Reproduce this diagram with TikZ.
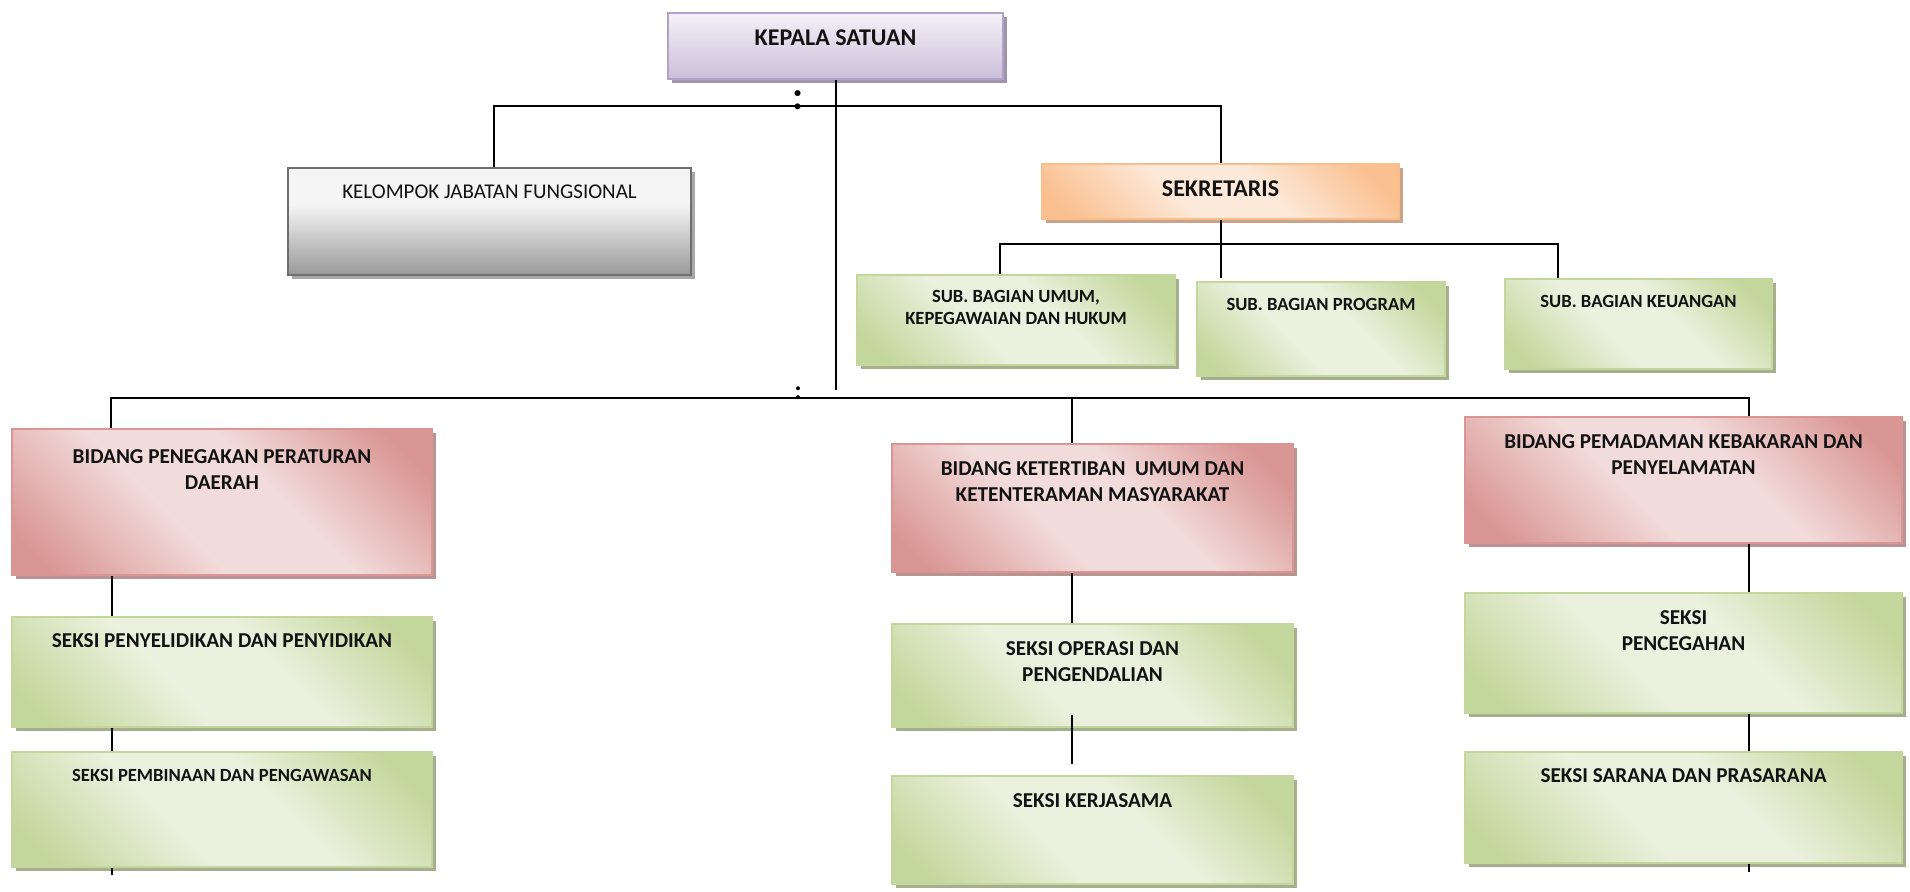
\documentclass[tikz,border=0pt]{standalone}
\usepackage{fontspec}
\setmainfont{Carlito}
\usetikzlibrary{shadows}
\definecolor{lavB}{HTML}{B3A2C7}
\definecolor{lavT}{HTML}{F4F1F8}
\definecolor{lavD}{HTML}{CABFD9}
\definecolor{lavS}{HTML}{9C95AC}
\definecolor{kB}{HTML}{6E6E6E}
\definecolor{kG}{HTML}{999999}
\definecolor{kS}{HTML}{A8A8A8}
\definecolor{oB}{HTML}{F9BE8C}
\definecolor{oD}{HTML}{FAC090}
\definecolor{oL}{HTML}{FDE9D9}
\definecolor{oS}{HTML}{C9A38A}
\definecolor{gB}{HTML}{C3D69B}
\definecolor{gD}{HTML}{C3D69B}
\definecolor{gL}{HTML}{EBF1DE}
\definecolor{gS}{HTML}{A7AE8E}
\definecolor{rB}{HTML}{D99694}
\definecolor{rD}{HTML}{D99694}
\definecolor{rL}{HTML}{F2DCDB}
\definecolor{rS}{HTML}{B99493}
\pgfdeclarehorizontalshading{gshade}{100bp}{color(0bp)=(gD); color(20bp)=(gD); color(42bp)=(gL); color(58bp)=(gL); color(79bp)=(gD); color(100bp)=(gD)}
\pgfdeclarehorizontalshading{rshade}{100bp}{color(0bp)=(rD); color(20bp)=(rD); color(42bp)=(rL); color(58bp)=(rL); color(79bp)=(rD); color(100bp)=(rD)}
\pgfdeclarehorizontalshading{oshade}{100bp}{color(0bp)=(oD); color(20bp)=(oD); color(42bp)=(oL); color(58bp)=(oL); color(79bp)=(oD); color(100bp)=(oD)}
\pgfdeclareverticalshading{kshade}{100bp}{color(0bp)=(kG); color(25bp)=(kG); color(58bp)=(white!96!black); color(100bp)=(white!96!black)}
\tikzset{
  boxbase/.style={rectangle, inner sep=0pt, line width=2.5pt},
  purplebox/.style={boxbase, draw=lavB, top color=lavT, bottom color=lavD,
    general shadow={fill=lavS, shadow xshift=4pt, shadow yshift=-4pt}},
  graybox/.style={boxbase, draw=kB, shading=kshade,
    general shadow={fill=kS, shadow xshift=4pt, shadow yshift=-4pt}},
  orangebox/.style={boxbase, draw=oB, shading=oshade, shading angle=45,
    general shadow={fill=oS, shadow xshift=4pt, shadow yshift=-4pt}},
  greenbox/.style={boxbase, draw=gB, shading=gshade, shading angle=45,
    general shadow={fill=gS, shadow xshift=4pt, shadow yshift=-4pt}},
  redbox/.style={boxbase, draw=rB, shading=rshade, shading angle=45,
    general shadow={fill=rS, shadow xshift=4pt, shadow yshift=-4pt}},
  lbl/.style={anchor=north, inner sep=0pt, align=center, text=black!93},
  fbig/.style={font=\fontsize{24}{29}\selectfont\bfseries},
  fmed/.style={font=\fontsize{21.2}{25.8}\selectfont\bfseries},
  fsml/.style={font=\fontsize{18.6}{22.7}\selectfont\bfseries},
  freg/.style={font=\fontsize{21}{25.6}\selectfont},
  conn/.style={line width=2pt, black},
}
\begin{document}
\begin{tikzpicture}[x=1pt, y=-1pt]
\useasboundingbox[fill=white] (0,0) rectangle (1910,891);

% boxes
\node[purplebox, minimum width=335pt, minimum height=66pt] (kepala) at (835.5,46) {};
\node[graybox, minimum width=403pt, minimum height=107pt] (kelompok) at (489.5,221.5) {};
\node[orangebox, minimum width=357pt, minimum height=55pt] (sekretaris) at (1220.5,191.5) {};
\node[greenbox, minimum width=318pt, minimum height=90pt] (sbu) at (1016,320) {};
\node[greenbox, minimum width=248pt, minimum height=94pt] (sbp) at (1321,329) {};
\node[greenbox, minimum width=267pt, minimum height=90pt] (sbk) at (1638.5,324) {};
\node[redbox, minimum width=420pt, minimum height=146pt] (bpp) at (222,502) {};
\node[greenbox, minimum width=420pt, minimum height=110pt] (sp1) at (222,672) {};
\node[greenbox, minimum width=420pt, minimum height=115pt] (sp2) at (222,809.5) {};
\node[redbox, minimum width=401pt, minimum height=128pt] (bkt) at (1092.5,508) {};
\node[greenbox, minimum width=401pt, minimum height=103pt] (so1) at (1092.5,675.5) {};
\node[greenbox, minimum width=401pt, minimum height=108pt] (so2) at (1092.5,830) {};
\node[redbox, minimum width=437pt, minimum height=126pt] (bpk) at (1683.5,480) {};
\node[greenbox, minimum width=437pt, minimum height=120pt] (sc1) at (1683.5,653) {};
\node[greenbox, minimum width=437pt, minimum height=111pt] (sc2) at (1683.5,807.5) {};

% labels
\node[lbl, fbig] (kepalaT) at ([yshift=-18pt]kepala.north) {KEPALA SATUAN};
\node[lbl, freg] (kelompokT) at ([yshift=-18pt]kelompok.north) {KELOMPOK JABATAN FUNGSIONAL};
\node[lbl, fbig] (sekretarisT) at ([yshift=-18pt]sekretaris.north) {SEKRETARIS};
\node[lbl, fsml] (sbuT) at ([yshift=-16pt]sbu.north) {SUB. BAGIAN UMUM,\\KEPEGAWAIAN DAN HUKUM};
\node[lbl, fsml] (sbpT) at ([yshift=-17pt]sbp.north) {SUB. BAGIAN PROGRAM};
\node[lbl, fsml] (sbkT) at ([yshift=-17pt]sbk.north) {SUB. BAGIAN KEUANGAN};
\node[lbl, fmed] (bppT) at ([yshift=-22pt]bpp.north) {BIDANG PENEGAKAN PERATURAN\\DAERAH};
\node[lbl, fmed] (sp1T) at ([yshift=-18pt]sp1.north) {SEKSI PENYELIDIKAN DAN PENYIDIKAN};
\node[lbl, fsml] (sp2T) at ([yshift=-18pt]sp2.north) {SEKSI PEMBINAAN DAN PENGAWASAN};
\node[lbl, fmed] (bktT) at ([yshift=-19pt]bkt.north) {BIDANG KETERTIBAN\ \ UMUM DAN\\KETENTERAMAN MASYARAKAT};
\node[lbl, fmed] (so1T) at ([yshift=-19pt]so1.north) {SEKSI OPERASI DAN\\PENGENDALIAN};
\node[lbl, fmed] (so2T) at ([yshift=-19pt]so2.north) {SEKSI KERJASAMA};
\node[lbl, fmed] (bpkT) at ([yshift=-19pt]bpk.north) {BIDANG PEMADAMAN KEBAKARAN DAN\\PENYELAMATAN};
\node[lbl, fmed] (sc1T) at ([yshift=-19pt]sc1.north) {SEKSI\\PENCEGAHAN};
\node[lbl, fmed] (sc2T) at ([yshift=-18pt]sc2.north) {SEKSI SARANA DAN PRASARANA};

% colons
\node[anchor=base, inner sep=0pt, font=\fontsize{40}{40}\selectfont\bfseries] (colon1) at (798,109) {:};
\node[anchor=base, inner sep=0pt, font=\fontsize{27}{27}\selectfont\bfseries] (colon2) at (798,399) {:};

% coordinates
\coordinate (kbot) at (835.5,390);
\coordinate (tbus) at (835.5,106);
\coordinate (sbus) at (1220.5,244);
\coordinate (sbpend) at (1220.5,278);
\coordinate (lbus) at (835.5,398);
\coordinate (opstart) at (1072,715);
\coordinate (opend) at (1072,764);
\coordinate (lstub) at (112,875);
\coordinate (rstub) at (1749,872);

% connectors
\draw[conn] (kepala.south) -- (kbot);
\draw[conn] ([xshift=4.5pt]kelompok.north) |- (tbus) -| (sekretaris.north);
\draw[conn] ([xshift=-16pt]sbu.north) |- (sbus) -| ([xshift=-80.5pt]sbk.north);
\draw[conn] (sekretaris.south) -- (sbpend);
\draw[conn] ([xshift=-111pt]bpp.north) |- (lbus) -| ([xshift=65.5pt]bpk.north);
\draw[conn] ([xshift=-20.5pt]bkt.north) -- ([xshift=-20.5pt]bkt.north |- lbus);
\draw[conn] ([xshift=-110pt]bpp.south) -- ([xshift=-110pt]sp1.north);
\draw[conn] ([xshift=-110pt]sp1.south) -- ([xshift=-110pt]sp2.north);
\draw[conn] ([xshift=-110pt]sp2.south) -- (lstub);
\draw[conn] ([xshift=-20.5pt]bkt.south) -- ([xshift=-20.5pt]so1.north);
\draw[conn] (opstart) -- (opend);
\draw[conn] ([xshift=65.5pt]bpk.south) -- ([xshift=65.5pt]sc1.north);
\draw[conn] ([xshift=65.5pt]sc1.south) -- ([xshift=65.5pt]sc2.north);
\draw[conn] ([xshift=65.5pt]sc2.south) -- (rstub);
\end{tikzpicture}
\end{document}
